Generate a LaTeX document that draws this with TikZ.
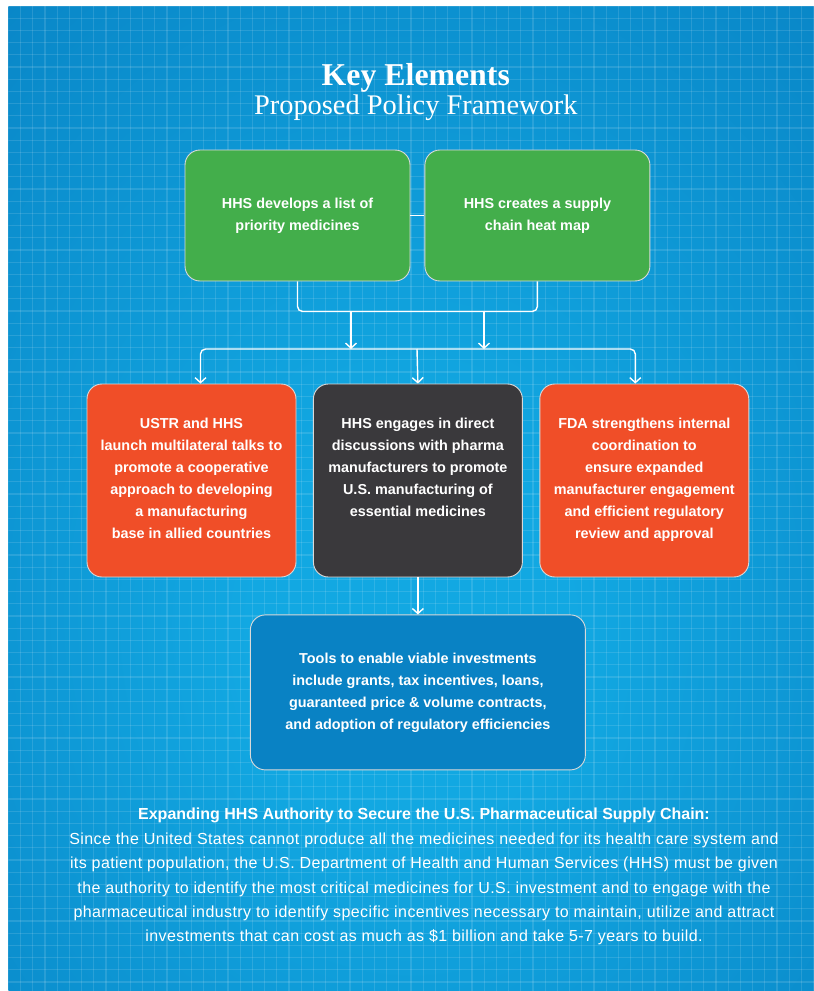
\documentclass[tikz,border=0pt]{standalone}
\usepackage{fontspec}
\setmainfont{Liberation Sans}
\newfontfamily\slabfont{Liberation Serif}
\newfontfamily\notefont[LetterSpace=2.6]{Liberation Sans}
\usetikzlibrary{arrows.meta,positioning}

\definecolor{bgout}{HTML}{0577BB}
\definecolor{bgin}{HTML}{12A8E2}
\definecolor{policygreen}{HTML}{43AE4B}
\definecolor{policyred}{HTML}{F04E28}
\definecolor{policydark}{HTML}{3A393C}
\definecolor{policyblue}{HTML}{0982C4}
\pgfdeclareradialshading{bgglow}{\pgfpoint{0bp}{-8bp}}{color(0bp)=(bgin); color(10bp)=(bgin); color(52bp)=(bgout); color(75bp)=(bgout)}

\tikzset{
  box/.style={rectangle, rounded corners=15pt, draw=white!70!gray, line width=.9pt,
    text=white, align=center, font=\bfseries\fontsize{14.4}{22}\selectfont},
  greenbox/.style={box, fill=policygreen, minimum width=225pt, minimum height=131pt},
  midbox/.style={box, minimum width=209pt, minimum height=193pt},
  toolbox/.style={box, fill=policyblue, minimum width=335pt, minimum height=155pt},
  boxtext/.style={inner sep=0pt, text=white, align=center, font=\bfseries\fontsize{14.4}{22}\selectfont},
  link/.style={draw=white, line width=1.4pt},
  flow/.style={link, -{Straight Barb[length=5pt,width=11pt]}},
  gridline/.style={white, opacity=.12, line width=1.2pt},
}

\begin{document}
\begin{tikzpicture}[x=1pt,y=-1pt]
  \useasboundingbox (0,0) rectangle (814,991);
  \fill[white] (0,0) rectangle (814,991);
  \shade[shading=bgglow] (8.3,6) rectangle (814,991);
  \begin{scope}
    \clip (8.3,6) rectangle (814,991);
    \foreach \k in {0,...,66}
      \draw[gridline] ({8.3+12.2*\k},6) -- ++(0,985);
    \foreach \k in {0,...,80}
      \draw[gridline] (8.3,{6+12.2*\k}) -- ++(806,0);
  \end{scope}

  % heading
  \node[anchor=base, text=white, font=\slabfont\bfseries\fontsize{31.8}{34}\selectfont] (head) at (415.8,85.7) {Key Elements};
  \node[anchor=base, text=white, font=\slabfont\fontsize{28.4}{30}\selectfont] (subhead) at (415.8,114.3) {Proposed Policy Framework};

  % first row
  \node[greenbox] (prio) at (297.5,215.5) {HHS develops a list of\\priority medicines};
  \node[greenbox, right=14pt of prio] (heatmap) {HHS creates a supply\\chain heat map};

  % second row
  \node[midbox, fill=policyred] (ustr) at (191.5,480.5) {};
  \node[midbox, fill=policydark, right=16.5pt of ustr] (engage) {};
  \node[midbox, fill=policyred, right=16.5pt of engage] (fda) {};
  \node[boxtext, below=34pt of ustr.north] (ustrtext) {USTR and HHS\\launch multilateral talks to\\promote a cooperative\\approach to developing\\a manufacturing\\base in allied countries};
  \node[boxtext, below=34pt of engage.north] (engagetext) {HHS engages in direct\\discussions with pharma\\manufacturers to promote\\U.S. manufacturing of\\essential medicines};
  \node[boxtext, below=34pt of fda.north] (fdatext) {FDA strengthens internal\\coordination to\\ensure expanded\\manufacturer engagement\\and efficient regulatory\\review and approval};

  % third row
  \node[toolbox, below=37pt of engage] (tools) {Tools to enable viable investments\\include grants, tax incentives, loans,\\guaranteed price \& volume contracts,\\and adoption of regulatory efficiencies};

  % connectors
  \coordinate (dropA) at (351,311);
  \coordinate (dropB) at (484,311);
  \coordinate (split) at (417,349);
  \draw[link] (prio.east) -- (heatmap.west);
  \draw[link, rounded corners=5pt] (prio.south) -- ++(0,30) -| (heatmap.south);
  \draw[flow] (dropA) -- (dropA |- split);
  \draw[flow] (dropB) -- (dropB |- split);
  \draw[flow, rounded corners=5pt] (split) -| ([xshift=9pt]ustr.north);
  \draw[flow, rounded corners=5pt] (split) -| ([xshift=-9pt]fda.north);
  \draw[flow] (split) -- (engage.north);
  \draw[flow] (engage.south) -- (tools.north);

  % summary
  \node[anchor=north, inner sep=0pt, text=white, align=center, font=\fontsize{16}{24.4}\selectfont] (summary) at (424,808)
    {\textbf{Expanding HHS Authority to Secure the U.S. Pharmaceutical Supply Chain:}\\
     \notefont Since the United States cannot produce all the medicines needed for its health care system and\\
     \notefont its patient population, the U.S. Department of Health and Human Services (HHS) must be given\\
     \notefont the authority to identify the most critical medicines for U.S. investment and to engage with the\\
     \notefont pharmaceutical industry to identify specific incentives necessary to maintain, utilize and attract\\
     \notefont investments that can cost as much as \$1 billion and take 5-7 years to build.};
\end{tikzpicture}
\end{document}
